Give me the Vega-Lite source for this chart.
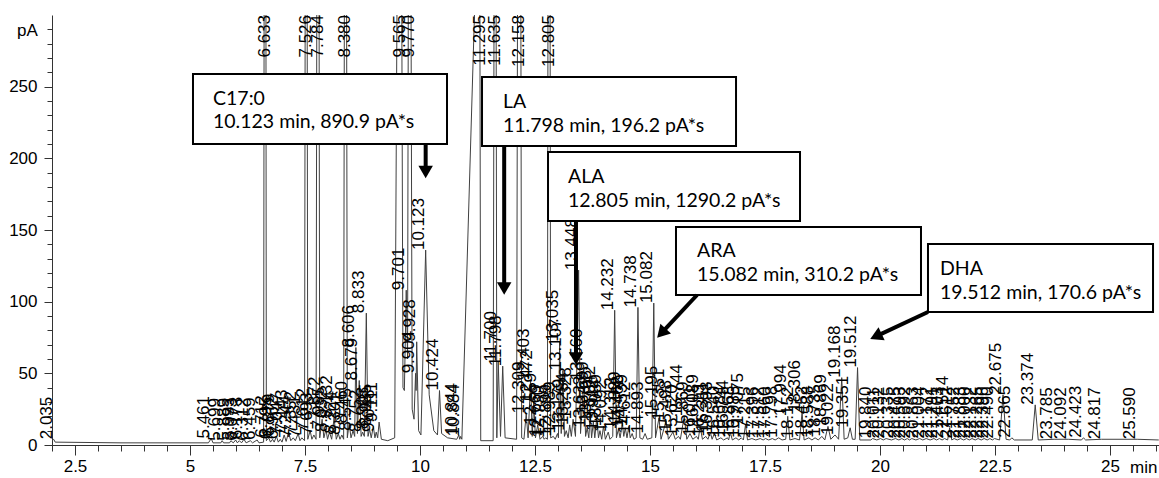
{
  "$schema": "https://vega.github.io/schema/vega-lite/v6.json",
  "width": 1107,
  "height": 430,
  "autosize": "none",
  "padding": {"left": 52, "top": 15, "right": 0, "bottom": 33},
  "background": "white",
  "config": {
    "view": {"stroke": null},
    "font": "Liberation Sans",
    "axis": {
      "grid": false,
      "labelFont": "Liberation Sans",
      "labelFontSize": 17,
      "labelColor": "black",
      "domainColor": "#333",
      "tickColor": "#333",
      "titleFont": "Liberation Sans",
      "titleFontSize": 17,
      "titleFontWeight": "normal",
      "titleColor": "black"
    }
  },
  "datasets": {
    "trace": [
      {"t": 2.0, "pA": 3},
      {"t": 2.035, "pA": 4, "rt": "2.035"},
      {"t": 2.07, "pA": 2},
      {"t": 3.5, "pA": 1.5},
      {"t": 5.4, "pA": 1.5},
      {"t": 5.461, "pA": 4.5, "rt": "5.461"},
      {"t": 5.5, "pA": 1.5},
      {"t": 5.67, "pA": 1.5},
      {"t": 5.699, "pA": 3, "rt": "5.699"},
      {"t": 5.73, "pA": 1.5},
      {"t": 5.86, "pA": 1.5},
      {"t": 5.889, "pA": 3, "rt": "5.889"},
      {"t": 5.94, "pA": 1.5},
      {"t": 5.993, "pA": 3.5, "rt": "5.993"},
      {"t": 6.03, "pA": 1.5},
      {"t": 6.073, "pA": 3, "rt": "6.073"},
      {"t": 6.12, "pA": 1.5},
      {"t": 6.173, "pA": 4, "rt": "6.173"},
      {"t": 6.22, "pA": 1.5},
      {"t": 6.312, "pA": 3, "rt": "6.312"},
      {"t": 6.36, "pA": 1.5},
      {"t": 6.459, "pA": 3.5, "rt": "6.459"},
      {"t": 6.5, "pA": 1.5},
      {"t": 6.6, "pA": 2},
      {"t": 6.633, "pA": 900, "rt": "6.633"},
      {"t": 6.66, "pA": 3},
      {"t": 6.712, "pA": 5, "rt": "6.712"},
      {"t": 6.75, "pA": 2},
      {"t": 6.795, "pA": 4, "rt": "6.795"},
      {"t": 6.83, "pA": 2},
      {"t": 6.879, "pA": 6, "rt": "6.879"},
      {"t": 6.92, "pA": 2},
      {"t": 6.962, "pA": 4, "rt": "6.962"},
      {"t": 7.0, "pA": 2},
      {"t": 7.047, "pA": 7, "rt": "7.047"},
      {"t": 7.09, "pA": 2.5},
      {"t": 7.143, "pA": 9, "rt": "7.143"},
      {"t": 7.19, "pA": 3},
      {"t": 7.244, "pA": 5, "rt": "7.244"},
      {"t": 7.29, "pA": 3},
      {"t": 7.352, "pA": 8, "rt": "7.352"},
      {"t": 7.39, "pA": 3},
      {"t": 7.431, "pA": 5, "rt": "7.431"},
      {"t": 7.49, "pA": 3},
      {"t": 7.526, "pA": 800, "rt": "7.526"},
      {"t": 7.56, "pA": 4},
      {"t": 7.612, "pA": 10, "rt": "7.612"},
      {"t": 7.65, "pA": 4},
      {"t": 7.693, "pA": 7, "rt": "7.693"},
      {"t": 7.74, "pA": 4},
      {"t": 7.784, "pA": 800, "rt": "7.784"},
      {"t": 7.82, "pA": 5},
      {"t": 7.872, "pA": 18, "rt": "7.872"},
      {"t": 7.91, "pA": 5},
      {"t": 7.955, "pA": 11, "rt": "7.955"},
      {"t": 7.99, "pA": 4},
      {"t": 8.032, "pA": 9, "rt": "8.032"},
      {"t": 8.08, "pA": 4},
      {"t": 8.132, "pA": 19, "rt": "8.132"},
      {"t": 8.18, "pA": 4},
      {"t": 8.224, "pA": 8, "rt": "8.224"},
      {"t": 8.26, "pA": 4},
      {"t": 8.301, "pA": 7, "rt": "8.301"},
      {"t": 8.34, "pA": 4},
      {"t": 8.38, "pA": 800, "rt": "8.380"},
      {"t": 8.42, "pA": 5},
      {"t": 8.46, "pA": 15, "rt": "8.460"},
      {"t": 8.5, "pA": 5},
      {"t": 8.545, "pA": 10, "rt": "8.545"},
      {"t": 8.58, "pA": 6},
      {"t": 8.606, "pA": 68, "rt": "8.606"},
      {"t": 8.64, "pA": 8},
      {"t": 8.679, "pA": 45, "rt": "8.679"},
      {"t": 8.72, "pA": 6},
      {"t": 8.752, "pA": 9, "rt": "8.752"},
      {"t": 8.79, "pA": 6},
      {"t": 8.833, "pA": 92, "rt": "8.833"},
      {"t": 8.87, "pA": 6},
      {"t": 8.903, "pA": 11, "rt": "8.903"},
      {"t": 8.94, "pA": 5},
      {"t": 8.985, "pA": 13, "rt": "8.985"},
      {"t": 9.02, "pA": 5},
      {"t": 9.048, "pA": 9, "rt": "9.048"},
      {"t": 9.08, "pA": 5},
      {"t": 9.111, "pA": 16, "rt": "9.111"},
      {"t": 9.16, "pA": 4},
      {"t": 9.3, "pA": 3},
      {"t": 9.45, "pA": 5},
      {"t": 9.565, "pA": 700, "rt": "9.565"},
      {"t": 9.63, "pA": 40},
      {"t": 9.66, "pA": 38},
      {"t": 9.701, "pA": 108, "rt": "9.701"},
      {"t": 9.73, "pA": 60},
      {"t": 9.77, "pA": 700, "rt": "9.770"},
      {"t": 9.83, "pA": 25},
      {"t": 9.87, "pA": 18},
      {"t": 9.904, "pA": 50, "rt": "9.904"},
      {"t": 9.915, "pA": 38},
      {"t": 9.928, "pA": 72, "rt": "9.928"},
      {"t": 9.97, "pA": 10},
      {"t": 10.02, "pA": 7},
      {"t": 10.123, "pA": 136, "rt": "10.123"},
      {"t": 10.2, "pA": 35},
      {"t": 10.3, "pA": 10},
      {"t": 10.38, "pA": 7},
      {"t": 10.424, "pA": 38, "rt": "10.424"},
      {"t": 10.47, "pA": 8},
      {"t": 10.6, "pA": 5},
      {"t": 10.8, "pA": 4},
      {"t": 10.844, "pA": 7, "rt": "10.844"},
      {"t": 10.864, "pA": 4},
      {"t": 10.884, "pA": 6, "rt": "10.884"},
      {"t": 10.91, "pA": 4},
      {"t": 11.295, "pA": 420, "rt": "11.295"},
      {"t": 11.32, "pA": 3},
      {"t": 11.59, "pA": 3},
      {"t": 11.635, "pA": 700, "rt": "11.635"},
      {"t": 11.67, "pA": 5},
      {"t": 11.7, "pA": 58, "rt": "11.700"},
      {"t": 11.75, "pA": 6},
      {"t": 11.798, "pA": 55, "rt": "11.798"},
      {"t": 11.85, "pA": 5},
      {"t": 12.1, "pA": 4},
      {"t": 12.158, "pA": 900, "rt": "12.158"},
      {"t": 12.21, "pA": 5},
      {"t": 12.26, "pA": 4},
      {"t": 12.309, "pA": 22, "rt": "12.309"},
      {"t": 12.35, "pA": 5},
      {"t": 12.403, "pA": 45, "rt": "12.403"},
      {"t": 12.44, "pA": 6},
      {"t": 12.472, "pA": 30, "rt": "12.472"},
      {"t": 12.51, "pA": 5},
      {"t": 12.559, "pA": 14, "rt": "12.559"},
      {"t": 12.61, "pA": 4},
      {"t": 12.669, "pA": 6, "rt": "12.669"},
      {"t": 12.7, "pA": 4},
      {"t": 12.73, "pA": 5, "rt": "12.730"},
      {"t": 12.77, "pA": 4},
      {"t": 12.805, "pA": 900, "rt": "12.805"},
      {"t": 12.84, "pA": 5},
      {"t": 12.899, "pA": 6, "rt": "12.899"},
      {"t": 12.94, "pA": 4},
      {"t": 12.989, "pA": 8, "rt": "12.989"},
      {"t": 13.01, "pA": 5},
      {"t": 13.035, "pA": 72, "rt": "13.035"},
      {"t": 13.07, "pA": 8},
      {"t": 13.107, "pA": 52, "rt": "13.107"},
      {"t": 13.14, "pA": 6},
      {"t": 13.179, "pA": 10, "rt": "13.179"},
      {"t": 13.22, "pA": 5},
      {"t": 13.254, "pA": 14, "rt": "13.254"},
      {"t": 13.29, "pA": 6},
      {"t": 13.328, "pA": 18, "rt": "13.328"},
      {"t": 13.38, "pA": 6},
      {"t": 13.448, "pA": 122, "rt": "13.448"},
      {"t": 13.49, "pA": 8},
      {"t": 13.56, "pA": 45, "rt": "13.560"},
      {"t": 13.6, "pA": 6},
      {"t": 13.633, "pA": 12, "rt": "13.633"},
      {"t": 13.67, "pA": 5},
      {"t": 13.699, "pA": 22, "rt": "13.699"},
      {"t": 13.73, "pA": 5},
      {"t": 13.768, "pA": 16, "rt": "13.768"},
      {"t": 13.8, "pA": 5},
      {"t": 13.842, "pA": 19, "rt": "13.842"},
      {"t": 13.88, "pA": 5},
      {"t": 13.912, "pA": 10, "rt": "13.912"},
      {"t": 13.95, "pA": 4},
      {"t": 13.989, "pA": 13, "rt": "13.989"},
      {"t": 14.03, "pA": 4},
      {"t": 14.092, "pA": 9, "rt": "14.092"},
      {"t": 14.13, "pA": 4},
      {"t": 14.19, "pA": 6},
      {"t": 14.232, "pA": 94, "rt": "14.232"},
      {"t": 14.27, "pA": 5},
      {"t": 14.312, "pA": 11, "rt": "14.312"},
      {"t": 14.35, "pA": 5},
      {"t": 14.399, "pA": 15, "rt": "14.399"},
      {"t": 14.43, "pA": 6},
      {"t": 14.462, "pA": 12, "rt": "14.462"},
      {"t": 14.5, "pA": 5},
      {"t": 14.539, "pA": 13, "rt": "14.539"},
      {"t": 14.57, "pA": 5},
      {"t": 14.612, "pA": 8, "rt": "14.612"},
      {"t": 14.65, "pA": 4},
      {"t": 14.7, "pA": 5},
      {"t": 14.738, "pA": 96, "rt": "14.738"},
      {"t": 14.78, "pA": 5},
      {"t": 14.84, "pA": 4},
      {"t": 14.893, "pA": 8, "rt": "14.893"},
      {"t": 14.94, "pA": 4},
      {"t": 15.04, "pA": 5},
      {"t": 15.082, "pA": 99, "rt": "15.082"},
      {"t": 15.12, "pA": 5},
      {"t": 15.195, "pA": 19, "rt": "15.195"},
      {"t": 15.24, "pA": 4},
      {"t": 15.351, "pA": 17, "rt": "15.351"},
      {"t": 15.4, "pA": 4},
      {"t": 15.498, "pA": 9, "rt": "15.498"},
      {"t": 15.55, "pA": 4},
      {"t": 15.62, "pA": 6, "rt": "15.620"},
      {"t": 15.66, "pA": 4},
      {"t": 15.744, "pA": 20, "rt": "15.744"},
      {"t": 15.8, "pA": 4},
      {"t": 15.869, "pA": 8, "rt": "15.869"},
      {"t": 15.93, "pA": 4},
      {"t": 16.011, "pA": 6, "rt": "16.011"},
      {"t": 16.05, "pA": 4},
      {"t": 16.089, "pA": 13, "rt": "16.089"},
      {"t": 16.14, "pA": 4},
      {"t": 16.213, "pA": 6, "rt": "16.213"},
      {"t": 16.26, "pA": 4},
      {"t": 16.311, "pA": 9, "rt": "16.311"},
      {"t": 16.35, "pA": 4},
      {"t": 16.398, "pA": 8, "rt": "16.398"},
      {"t": 16.45, "pA": 3.5},
      {"t": 16.54, "pA": 5, "rt": "16.540"},
      {"t": 16.6, "pA": 3.5},
      {"t": 16.684, "pA": 5, "rt": "16.684"},
      {"t": 16.71, "pA": 3.5},
      {"t": 16.744, "pA": 9, "rt": "16.744"},
      {"t": 16.79, "pA": 3.5},
      {"t": 16.868, "pA": 5, "rt": "16.868"},
      {"t": 16.93, "pA": 3.5},
      {"t": 16.985, "pA": 5, "rt": "16.985"},
      {"t": 17.03, "pA": 3.5},
      {"t": 17.075, "pA": 14, "rt": "17.075"},
      {"t": 17.12, "pA": 3.5},
      {"t": 17.215, "pA": 4.5, "rt": "17.215"},
      {"t": 17.3, "pA": 3.5},
      {"t": 17.396, "pA": 4.5, "rt": "17.396"},
      {"t": 17.46, "pA": 3.5},
      {"t": 17.512, "pA": 4.5, "rt": "17.512"},
      {"t": 17.58, "pA": 3.5},
      {"t": 17.66, "pA": 4.5, "rt": "17.660"},
      {"t": 17.72, "pA": 3.5},
      {"t": 17.798, "pA": 5, "rt": "17.798"},
      {"t": 17.87, "pA": 3.5},
      {"t": 17.95, "pA": 4},
      {"t": 17.994, "pA": 20, "rt": "17.994"},
      {"t": 18.04, "pA": 3.5},
      {"t": 18.152, "pA": 4.5, "rt": "18.152"},
      {"t": 18.25, "pA": 3.5},
      {"t": 18.306, "pA": 23, "rt": "18.306"},
      {"t": 18.35, "pA": 3.5},
      {"t": 18.452, "pA": 5, "rt": "18.452"},
      {"t": 18.52, "pA": 3.5},
      {"t": 18.588, "pA": 5, "rt": "18.588"},
      {"t": 18.66, "pA": 3.5},
      {"t": 18.735, "pA": 6, "rt": "18.735"},
      {"t": 18.8, "pA": 3.5},
      {"t": 18.869, "pA": 13, "rt": "18.869"},
      {"t": 18.93, "pA": 4},
      {"t": 19.022, "pA": 7, "rt": "19.022"},
      {"t": 19.1, "pA": 4},
      {"t": 19.168, "pA": 47, "rt": "19.168"},
      {"t": 19.22, "pA": 4},
      {"t": 19.3, "pA": 5},
      {"t": 19.351, "pA": 12, "rt": "19.351"},
      {"t": 19.4, "pA": 4},
      {"t": 19.46, "pA": 4},
      {"t": 19.512, "pA": 54, "rt": "19.512"},
      {"t": 19.56, "pA": 3.5},
      {"t": 19.8, "pA": 3.5},
      {"t": 19.84, "pA": 4.5, "rt": "19.840"},
      {"t": 19.93, "pA": 3.5},
      {"t": 20.011, "pA": 4.5, "rt": "20.011"},
      {"t": 20.07, "pA": 3.5},
      {"t": 20.132, "pA": 4.5, "rt": "20.132"},
      {"t": 20.25, "pA": 3.5},
      {"t": 20.335, "pA": 4.5, "rt": "20.335"},
      {"t": 20.41, "pA": 3.5},
      {"t": 20.475, "pA": 4.5, "rt": "20.475"},
      {"t": 20.53, "pA": 3.5},
      {"t": 20.593, "pA": 4.5, "rt": "20.593"},
      {"t": 20.64, "pA": 3.5},
      {"t": 20.692, "pA": 4.5, "rt": "20.692"},
      {"t": 20.78, "pA": 3.5},
      {"t": 20.863, "pA": 4.5, "rt": "20.863"},
      {"t": 20.93, "pA": 3.5},
      {"t": 21.004, "pA": 4.5, "rt": "21.004"},
      {"t": 21.09, "pA": 3.5},
      {"t": 21.172, "pA": 4.5, "rt": "21.172"},
      {"t": 21.23, "pA": 3.5},
      {"t": 21.291, "pA": 4.5, "rt": "21.291"},
      {"t": 21.35, "pA": 3.5},
      {"t": 21.403, "pA": 4.5, "rt": "21.403"},
      {"t": 21.47, "pA": 3.5},
      {"t": 21.514, "pA": 12, "rt": "21.514"},
      {"t": 21.56, "pA": 3.5},
      {"t": 21.612, "pA": 4.5, "rt": "21.612"},
      {"t": 21.68, "pA": 3.5},
      {"t": 21.752, "pA": 4.5, "rt": "21.752"},
      {"t": 21.82, "pA": 3.5},
      {"t": 21.883, "pA": 4.5, "rt": "21.883"},
      {"t": 21.94, "pA": 3.5},
      {"t": 22.0, "pA": 4.5, "rt": "22.000"},
      {"t": 22.07, "pA": 3.5},
      {"t": 22.132, "pA": 4.5, "rt": "22.132"},
      {"t": 22.2, "pA": 3.5},
      {"t": 22.265, "pA": 4.5, "rt": "22.265"},
      {"t": 22.33, "pA": 3.5},
      {"t": 22.39, "pA": 4.5, "rt": "22.390"},
      {"t": 22.44, "pA": 3.5},
      {"t": 22.49, "pA": 4.5, "rt": "22.490"},
      {"t": 22.6, "pA": 3.5},
      {"t": 22.675, "pA": 35, "rt": "22.675"},
      {"t": 22.74, "pA": 4},
      {"t": 22.82, "pA": 3.5},
      {"t": 22.865, "pA": 5, "rt": "22.865"},
      {"t": 22.92, "pA": 3.5},
      {"t": 23.31, "pA": 3.5},
      {"t": 23.374, "pA": 28, "rt": "23.374"},
      {"t": 23.44, "pA": 3.5},
      {"t": 23.785, "pA": 4, "rt": "23.785"},
      {"t": 24.092, "pA": 4, "rt": "24.092"},
      {"t": 24.38, "pA": 3.5},
      {"t": 24.423, "pA": 5, "rt": "24.423"},
      {"t": 24.47, "pA": 3.5},
      {"t": 24.817, "pA": 4, "rt": "24.817"},
      {"t": 25.59, "pA": 4, "rt": "25.590"},
      {"t": 26.06, "pA": 3.5}
    ],
    "boxes": [
      {"name": "C17", "x1": 5.065, "x2": 10.587, "y1": 258.8, "y2": 210.0},
      {"name": "LA", "x1": 11.348, "x2": 16.87, "y1": 256.7, "y2": 208.6},
      {"name": "ALA", "x1": 12.783, "x2": 18.261, "y1": 204.4, "y2": 156.3},
      {"name": "ARA", "x1": 15.565, "x2": 20.891, "y1": 152.1, "y2": 104.65},
      {"name": "DHA", "x1": 21.043, "x2": 25.935, "y1": 140.2, "y2": 92.8}
    ],
    "boxText": [
      {"t": 5.5, "pA": 241.4, "txt": "C17:0"},
      {"t": 5.5, "pA": 225.3, "txt": "10.123 min, 890.9 pA*s"},
      {"t": 11.804, "pA": 239.3, "txt": "LA"},
      {"t": 11.804, "pA": 222.6, "txt": "11.798 min, 196.2 pA*s"},
      {"t": 13.217, "pA": 187.0, "txt": "ALA"},
      {"t": 13.217, "pA": 170.2, "txt": "12.805 min, 1290.2 pA*s"},
      {"t": 16.022, "pA": 135.3, "txt": "ARA"},
      {"t": 16.022, "pA": 118.6, "txt": "15.082 min, 310.2 pA*s"},
      {"t": 21.304, "pA": 122.8, "txt": "DHA"},
      {"t": 21.304, "pA": 106.0, "txt": "19.512 min, 170.6 pA*s"}
    ],
    "shafts": [
      {"name": "C17", "x1": 10.123, "y1": 210.0, "x2": 10.123, "y2": 193},
      {"name": "LA", "x1": 11.83, "y1": 208.6, "x2": 11.83, "y2": 112},
      {"name": "ALA", "x1": 13.391, "y1": 156.3, "x2": 13.391, "y2": 63},
      {"name": "ARA", "x1": 16.022, "y1": 104.65, "x2": 15.248, "y2": 78.0},
      {"name": "DHA", "x1": 21.043, "y1": 92.8, "x2": 19.911, "y2": 75.8}
    ],
    "heads": [
      {"name": "C17", "t": 10.123, "pA": 190.5},
      {"name": "LA", "t": 11.83, "pA": 109.2},
      {"name": "ALA", "t": 13.391, "pA": 60.3},
      {"name": "ARA", "t": 15.248, "pA": 78.0},
      {"name": "DHA", "t": 19.911, "pA": 75.8}
    ]
  },
  "resolve": {"axis": {"x": "independent", "y": "independent"}},
  "layer": [
    {
      "data": {"name": "trace"},
      "mark": {"type": "line", "clip": true, "color": "#404040", "strokeWidth": 1, "interpolate": "linear"},
      "encoding": {
        "x": {
          "field": "t", "type": "quantitative",
          "scale": {"domain": [2, 26.065], "nice": false, "zero": false},
          "axis": {
            "orient": "bottom",
            "values": [2.5, 5, 7.5, 10, 12.5, 15, 17.5, 20, 22.5, 25],
            "labelExpr": "'' + datum.value",
            "tickSize": 10,
            "labelPadding": 3,
            "labelFlush": false,
            "labelOverlap": false,
            "title": "min",
            "titleX": 1105,
            "titleY": 22,
            "titleAlign": "right",
            "titleBaseline": "middle",
            "titleAnchor": null
          }
        },
        "y": {
          "field": "pA", "type": "quantitative",
          "scale": {"domain": [0, 300], "nice": false, "zero": true},
          "axis": {
            "orient": "left",
            "values": [0, 50, 100, 150, 200, 250],
            "tickSize": 8,
            "labelPadding": 7,
            "labelOverlap": false,
            "title": "pA",
            "titleAngle": 0,
            "titleX": -25,
            "titleY": 15,
            "titleAlign": "center",
            "titleBaseline": "middle",
            "titleAnchor": null
          }
        }
      }
    },
    {
      "data": {"name": "trace"},
      "transform": [{"filter": "isValid(datum.rt) && datum.pA < 300"}],
      "mark": {"type": "text", "angle": 270, "align": "left", "baseline": "middle", "dy": -7, "fontSize": 17, "font": "Liberation Sans", "color": "black"},
      "encoding": {
        "x": {
          "field": "t", "type": "quantitative",
          "scale": {"domain": [2, 26.065], "nice": false, "zero": false},
          "axis": {
            "orient": "bottom",
            "values": [2, 2.5, 3, 3.5, 4, 4.5, 5, 5.5, 6, 6.5, 7, 7.5, 8, 8.5, 9, 9.5, 10, 10.5, 11, 11.5, 12, 12.5, 13, 13.5, 14, 14.5, 15, 15.5, 16, 16.5, 17, 17.5, 18, 18.5, 19, 19.5, 20, 20.5, 21, 21.5, 22, 22.5, 23, 23.5, 24, 24.5, 25, 25.5, 26],
            "labels": false, "domain": false, "tickSize": 6, "title": null
          }
        },
        "y": {
          "field": "pA", "type": "quantitative",
          "scale": {"domain": [0, 300], "nice": false, "zero": true},
          "axis": {
            "orient": "left",
            "values": [0, 10, 20, 30, 40, 50, 60, 70, 80, 90, 100, 110, 120, 130, 140, 150, 160, 170, 180, 190, 200, 210, 220, 230, 240, 250, 260, 270, 280, 290],
            "labels": false, "domain": false, "tickSize": 5, "title": null
          }
        },
        "text": {"field": "rt"}
      }
    },
    {
      "data": {"name": "trace"},
      "transform": [{"filter": "isValid(datum.rt) && datum.pA >= 300"}],
      "mark": {"type": "text", "angle": 270, "align": "right", "baseline": "middle", "fontSize": 17, "font": "Liberation Sans", "color": "black"},
      "encoding": {
        "x": {"field": "t", "type": "quantitative", "axis": null},
        "y": {"datum": 300, "type": "quantitative", "axis": null},
        "text": {"field": "rt"}
      }
    },
    {
      "data": {"name": "boxes"},
      "mark": {"type": "rect", "fill": "white", "stroke": "black", "strokeWidth": 2},
      "encoding": {
        "x": {"field": "x1", "type": "quantitative", "axis": null},
        "x2": {"field": "x2"},
        "y": {"field": "y1", "type": "quantitative", "axis": null},
        "y2": {"field": "y2"}
      }
    },
    {
      "data": {"name": "boxText"},
      "mark": {"type": "text", "align": "left", "baseline": "middle", "font": "Lato", "fontSize": 19.5, "color": "black"},
      "encoding": {
        "x": {"field": "t", "type": "quantitative", "axis": null},
        "y": {"field": "pA", "type": "quantitative", "axis": null},
        "text": {"field": "txt"}
      }
    },
    {
      "data": {"name": "shafts"},
      "mark": {"type": "rule", "strokeWidth": 4, "color": "black"},
      "encoding": {
        "x": {"field": "x1", "type": "quantitative", "axis": null},
        "y": {"field": "y1", "type": "quantitative", "axis": null},
        "x2": {"field": "x2"},
        "y2": {"field": "y2"}
      }
    },
    {
      "data": {"name": "heads"},
      "transform": [{"filter": "datum.name === 'C17' || datum.name === 'LA' || datum.name === 'ALA'"}],
      "mark": {"type": "point", "shape": "triangle-down", "filled": true, "size": 210, "color": "black", "opacity": 1, "strokeWidth": 0},
      "encoding": {
        "x": {"field": "t", "type": "quantitative", "axis": null},
        "y": {"field": "pA", "type": "quantitative", "axis": null}
      }
    },
    {
      "data": {"name": "heads"},
      "transform": [{"filter": "datum.name === 'ARA'"}],
      "mark": {"type": "point", "shape": "triangle-up", "angle": 223, "filled": true, "size": 210, "color": "black", "opacity": 1, "strokeWidth": 0},
      "encoding": {
        "x": {"field": "t", "type": "quantitative", "axis": null},
        "y": {"field": "pA", "type": "quantitative", "axis": null}
      }
    },
    {
      "data": {"name": "heads"},
      "transform": [{"filter": "datum.name === 'DHA'"}],
      "mark": {"type": "point", "shape": "triangle-up", "angle": 245, "filled": true, "size": 210, "color": "black", "opacity": 1, "strokeWidth": 0},
      "encoding": {
        "x": {"field": "t", "type": "quantitative", "axis": null},
        "y": {"field": "pA", "type": "quantitative", "axis": null}
      }
    }
  ]
}
